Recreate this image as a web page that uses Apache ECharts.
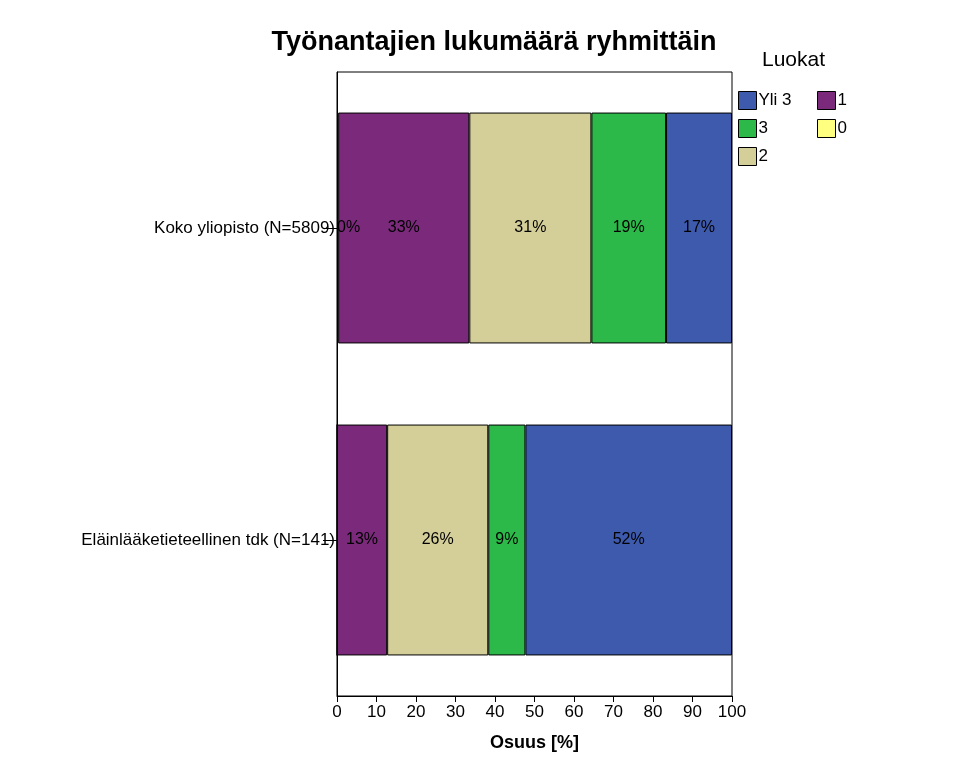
<!DOCTYPE html>
<html>
<head>
<meta charset="utf-8">
<script src="https://cdn.jsdelivr.net/npm/echarts@6/dist/echarts.min.js"></script>
<style>
  body { margin: 0; background: #fff; }
  #chart { width: 978px; height: 784px; }
</style>
</head>
<body>
<div id="chart"></div>
<script>
const categories = ['Koko yliopisto (N=5809)', 'Eläinlääketieteellinen tdk (N=141)'];
const seriesNames = ['0', '1', '2', '3', 'Yli 3'];
const values0 = [0.3, 0];
const values1 = [33.2, 12.7];
const values2 = [30.9, 25.6];
const values3 = [18.9, 9.4];
const valuesYli3 = [16.7, 52.3];
const xTicks = [0, 10, 20, 30, 40, 50, 60, 70, 80, 90, 100];

const allValues = [values0, values1, values2, values3, valuesYli3];
const palette = ['#ffff80', '#7b2a7b', '#d4cf99', '#2db84a', '#3d5aad'];
const font = 'Liberation Sans, Arial, sans-serif';

const chart = echarts.init(document.getElementById('chart'));

const series = seriesNames.map((name, i) => ({
    name,
    type: 'bar',
    stack: 'total',
    barWidth: '74%',
    data: allValues[i],
    itemStyle: { color: palette[i], borderColor: '#000', borderWidth: 1 },
    label: {
        show: true,
        position: i === 0 ? 'insideLeft' : 'inside',
        offset: i === 0 ? [-5, 0] : [0, 0],
        color: '#000',
        fontSize: 16,
        fontFamily: font,
        formatter: p => p.value === 0 ? '' : Math.round(p.value) + '%'
    }
}));

const legendBase = {
    orient: 'vertical',
    itemWidth: 18,
    itemHeight: 18,
    itemGap: 9,
    icon: 'rect',
    textStyle: { fontSize: 17, fontFamily: font, color: '#000', padding: [0, 0, 0, -3] },
    itemStyle: { borderColor: '#000', borderWidth: 1 }
};

chart.setOption({
    animation: false,
    title: {
        text: 'Työnantajien lukumäärä ryhmittäin',
        left: 489,
        textAlign: 'center',
        top: 24,
        textStyle: { fontSize: 27, fontWeight: 'bold', fontFamily: font, color: '#000' }
    },
    graphic: [{
        type: 'text', left: 762, top: 50,
        style: { text: 'Luokat', fontSize: 21, fontFamily: font, fill: '#000' }
    }],
    legend: [
        Object.assign({ left: 733, top: 86, data: ['Yli 3', '3', '2'] }, legendBase),
        Object.assign({ left: 812, top: 86, data: ['1', '0'] }, legendBase)
    ],
    grid: {
        left: 337, right: 246, top: 72, bottom: 88,
        show: true, borderColor: '#000', borderWidth: 1, backgroundColor: '#fff'
    },
    xAxis: {
        type: 'value',
        min: 0, max: 100, interval: 10,
        name: 'Osuus [%]',
        nameLocation: 'middle',
        nameGap: 38,
        nameTextStyle: { fontSize: 18, fontWeight: 'bold', fontFamily: font, color: '#000' },
        axisLine: { show: true, lineStyle: { color: '#000' } },
        axisTick: { show: true, length: 6, lineStyle: { color: '#000' } },
        axisLabel: { fontSize: 17, fontFamily: font, color: '#000', margin: 8,
                     formatter: v => xTicks.includes(v) ? String(v) : '' },
        splitLine: { show: false }
    },
    yAxis: {
        type: 'category',
        data: categories,
        inverse: true,
        axisLine: { show: true, lineStyle: { color: '#000' } },
        axisTick: { show: true, alignWithLabel: true, length: 14, lineStyle: { color: '#000' } },
        axisLabel: { fontSize: 17, fontFamily: font, color: '#000', margin: 2 }
    },
    series
});
</script>
</body>
</html>
